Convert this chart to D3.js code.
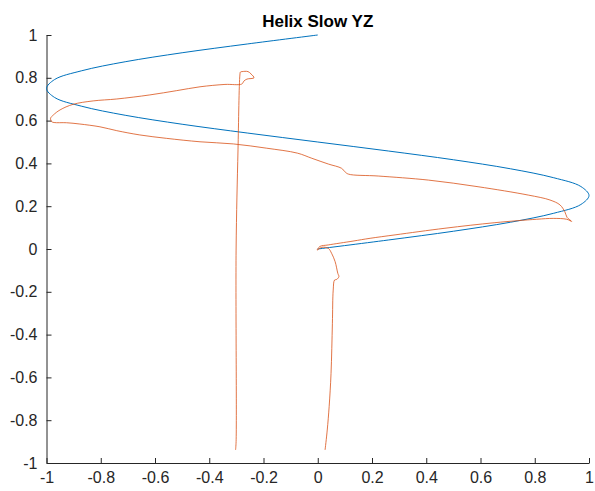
<!DOCTYPE html>
<html>
<head>
<meta charset="utf-8">
<script src="https://d3js.org/d3.v7.min.js"></script>
<style>
  body { margin: 0; background: #fff; }
  svg { display: block; font-family: "Liberation Sans", Arial, sans-serif; }
</style>
</head>
<body>
<svg width="595" height="491"></svg>
<script>
// reference helix
var helixY = [0, -0.26, -0.5, -0.71, -0.87, -0.97, -1, -0.97, -0.87, -0.71, -0.5, -0.26, 0,
              0.26, 0.5, 0.71, 0.87, 0.97, 1, 0.97, 0.87, 0.71, 0.5, 0.26, 0];
var helixZ = [1, 0.958, 0.917, 0.875, 0.833, 0.792, 0.75, 0.708, 0.667, 0.625, 0.583, 0.542, 0.5,
              0.458, 0.417, 0.375, 0.333, 0.292, 0.25, 0.208, 0.167, 0.125, 0.083, 0.042, 0];

// measured trajectory
var trackY = [-0.303, -0.301, -0.301, -0.294, -0.287, -0.285, -0.279, -0.257, -0.246, -0.235,
              -0.261, -0.272, -0.280, -0.342, -0.434, -0.520, -0.619, -0.741, -0.828, -0.902,
              -0.950, -0.975, -0.985, -0.981, -0.972, -0.926, -0.877, -0.803, -0.741, -0.656,
              -0.557, -0.434, -0.311, -0.188, -0.075, -0.022, 0.039, 0.088, 0.100, 0.113,
              0.223, 0.408, 0.591, 0.776, 0.856, 0.893, 0.911, 0.919, 0.936, 0.918,
              0.868, 0.807, 0.653, 0.469, 0.285, 0.193, 0.130, 0.039, 0.008, -0.002,
              0.015, 0.039, 0.051, 0.064, 0.074, 0.078, 0.070, 0.062, 0.057, 0.054,
              0.049, 0.042, 0.035, 0.027];
var trackZ = [-0.939, -0.90, -0.005, 0.463, 0.813, 0.827, 0.829, 0.829, 0.818, 0.800,
              0.794, 0.785, 0.771, 0.769, 0.758, 0.740, 0.720, 0.701, 0.692, 0.676,
              0.650, 0.626, 0.611, 0.595, 0.591, 0.590, 0.584, 0.571, 0.553, 0.533,
              0.517, 0.501, 0.491, 0.471, 0.448, 0.424, 0.397, 0.377, 0.361, 0.350,
              0.341, 0.322, 0.291, 0.252, 0.229, 0.206, 0.174, 0.148, 0.129, 0.139,
              0.143, 0.139, 0.123, 0.097, 0.066, 0.050, 0.037, 0.019, 0.012, -0.005,
              0.008, 0.003, -0.020, -0.059, -0.114, -0.129, -0.142, -0.145, -0.192, -0.347,
              -0.581, -0.737, -0.846, -0.939];

var xTicks = [-1, -0.8, -0.6, -0.4, -0.2, 0, 0.2, 0.4, 0.6, 0.8, 1];
var yTicks = [-1, -0.8, -0.6, -0.4, -0.2, 0, 0.2, 0.4, 0.6, 0.8, 1];
var title = "Helix Slow YZ";

var svg = d3.select("svg");
var margin = {left: 46.5, right: 6, top: 35, bottom: 28};
var width = 595, height = 491;
var axisColor = "#262626";

var x = d3.scaleLinear().domain([-1, 1]).range([margin.left, width - margin.right]);
var y = d3.scaleLinear().domain([-1, 1]).range([height - margin.bottom, margin.top]);

// MATLAB style labels use a plain hyphen
var fmt = function(d) { return String(d).replace("−", "-"); };

// axes, ticks pointing inward
svg.append("g")
    .attr("transform", "translate(0," + y(-1) + ")")
    .call(d3.axisBottom(x).tickValues(xTicks).tickSizeInner(-5).tickSizeOuter(0).tickPadding(9).tickFormat(fmt));
svg.append("g")
    .attr("transform", "translate(" + x(-1) + ",0)")
    .call(d3.axisLeft(y).tickValues(yTicks).tickSizeInner(-5).tickSizeOuter(0).tickPadding(9).tickFormat(fmt));

svg.selectAll(".domain, .tick line").attr("stroke", axisColor);
svg.selectAll(".tick text")
    .attr("fill", axisColor)
    .attr("font-size", "16px")
    .attr("font-family", "'Liberation Sans', Arial, sans-serif");

// lines
var line = d3.line()
    .x(function(d) { return x(d[0]); })
    .y(function(d) { return y(d[1]); });

var helix = helixY.map(function(v, i) { return [v, helixZ[i]]; });
var track = trackY.map(function(v, i) { return [v, trackZ[i]]; });

svg.append("path")
    .attr("fill", "none")
    .attr("stroke", "#0072BD")
    .attr("stroke-width", 1)
    .attr("d", line.curve(d3.curveCatmullRom)(helix));

svg.append("path")
    .attr("fill", "none")
    .attr("stroke", "#D95319")
    .attr("stroke-width", 1)
    .attr("stroke-opacity", 0.8)
    .attr("stroke-linejoin", "round")
    .attr("d", line.curve(d3.curveCatmullRom.alpha(0.5))(track));

// title
svg.append("text")
    .attr("x", (x(-1) + x(1)) / 2)
    .attr("y", 26.5)
    .attr("text-anchor", "middle")
    .attr("font-weight", "bold")
    .attr("font-size", "17px")
    .attr("fill", "#000")
    .text(title);
</script>
</body>
</html>
